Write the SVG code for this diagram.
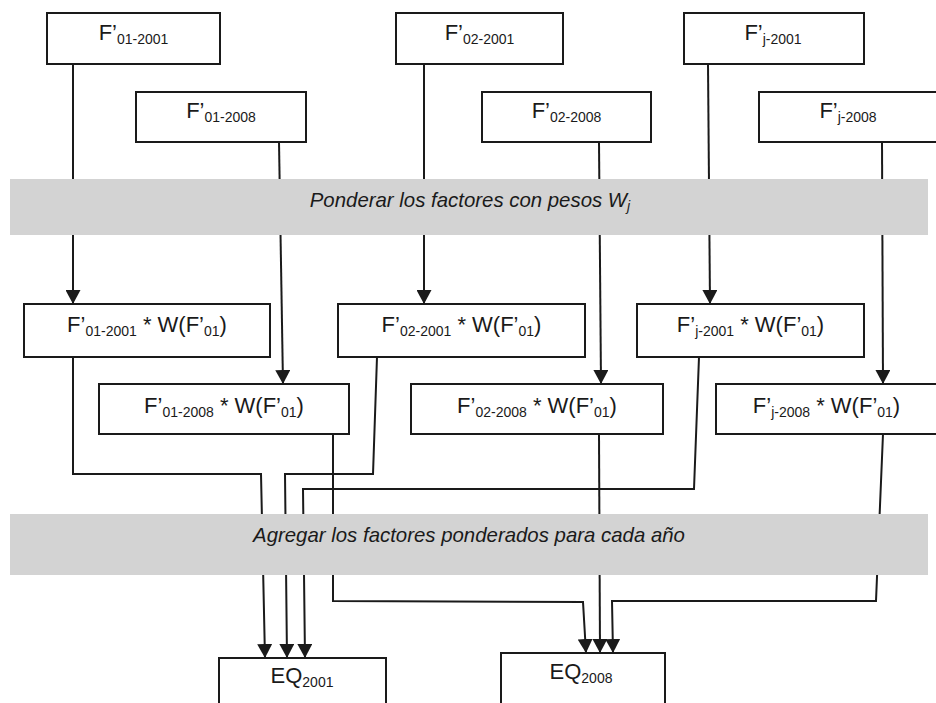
<svg xmlns="http://www.w3.org/2000/svg" width="936" height="703" viewBox="0 0 936 703">
<style>
  .box { fill: #ffffff; stroke: #1a1a1a; stroke-width: 2; }
  .band { fill: #d3d3d3; }
  .lbl { font-family: "Liberation Sans", Arial, sans-serif; font-size: 22px; fill: #1a1a1a; text-anchor: middle; }
  .sub { font-size: 14px; }
  .bandtxt { font-family: "Liberation Sans", Arial, sans-serif; font-size: 20.4px; font-style: italic; fill: #1a1a1a; text-anchor: middle; }
  .con { fill: none; stroke: #1a1a1a; stroke-width: 2; }
  .arr { marker-end: url(#ah); }
</style>
<defs>
  <marker id="ah" markerUnits="userSpaceOnUse" markerWidth="15" markerHeight="15" refX="14" refY="7.5" orient="auto" viewBox="0 0 15 15">
    <path d="M0,0 L14,7.5 L0,15 z" fill="#1a1a1a"/>
  </marker>
</defs>
<rect width="936" height="703" fill="#ffffff"/>

<g id="connectors">
  <path class="con arr" d="M73 64 V304"/>
  <path class="con arr" d="M279 142 L283 384"/>
  <path class="con arr" d="M424 64 V304"/>
  <path class="con arr" d="M599 142 L601 384"/>
  <path class="con arr" d="M708 64 L710 304"/>
  <path class="con arr" d="M882 142 L883 384"/>
  <path class="con arr" d="M73 357 V474 H261 L265 658"/>
  <path class="con arr" d="M377 357 L373 474 H285 L287 658"/>
  <path class="con arr" d="M699 357 L694 489 H303 L305 658"/>
  <path class="con arr" d="M333 434 V601 L583 602 L586 653"/>
  <path class="con arr" d="M599 434 L600 653"/>
  <path class="con arr" d="M883 434 L876 601 H612 L613 653"/>
</g>

<g id="band-ponderar">
  <rect class="band" x="10" y="179" width="918" height="56"/>
  <text class="bandtxt" x="470" y="207">Ponderar los factores con pesos W<tspan class="sub" dy="4" font-size="14">j</tspan></text>
</g>
<g id="band-agregar">
  <rect class="band" x="10" y="514" width="918" height="61"/>
  <text class="bandtxt" x="469" y="542">Agregar los factores ponderados para cada año</text>
</g>

<g id="f01-2001">
  <rect class="box" x="47" y="13" width="173" height="51"/>
  <text class="lbl" x="133.5" y="40">F’<tspan class="sub" dy="4">01-2001</tspan></text>
</g>
<g id="f01-2008">
  <rect class="box" x="136" y="92" width="170" height="50"/>
  <text class="lbl" x="221" y="118">F’<tspan class="sub" dy="4">01-2008</tspan></text>
</g>
<g id="f02-2001">
  <rect class="box" x="396" y="13" width="167" height="51"/>
  <text class="lbl" x="479.5" y="40">F’<tspan class="sub" dy="4">02-2001</tspan></text>
</g>
<g id="f02-2008">
  <rect class="box" x="482" y="92" width="169" height="50"/>
  <text class="lbl" x="566.5" y="118">F’<tspan class="sub" dy="4">02-2008</tspan></text>
</g>
<g id="fj-2001">
  <rect class="box" x="684" y="13" width="180" height="51"/>
  <text class="lbl" x="773" y="40">F’<tspan class="sub" dy="4">j-2001</tspan></text>
</g>
<g id="fj-2008">
  <rect class="box" x="759" y="92" width="180" height="50"/>
  <text class="lbl" x="848" y="118">F’<tspan class="sub" dy="4">j-2008</tspan></text>
</g>

<g id="w01-2001">
  <rect class="box" x="24" y="304" width="246" height="53"/>
  <text class="lbl" x="147" y="332">F’<tspan class="sub" dy="4">01-2001</tspan><tspan dy="-4"> * W(F’</tspan><tspan class="sub" dy="4">01</tspan><tspan dy="-4">)</tspan></text>
</g>
<g id="w01-2008">
  <rect class="box" x="99" y="384" width="250" height="50"/>
  <text class="lbl" x="224" y="413">F’<tspan class="sub" dy="4">01-2008</tspan><tspan dy="-4"> * W(F’</tspan><tspan class="sub" dy="4">01</tspan><tspan dy="-4">)</tspan></text>
</g>
<g id="w02-2001">
  <rect class="box" x="338" y="304" width="247" height="53"/>
  <text class="lbl" x="461.5" y="332">F’<tspan class="sub" dy="4">02-2001</tspan><tspan dy="-4"> * W(F’</tspan><tspan class="sub" dy="4">01</tspan><tspan dy="-4">)</tspan></text>
</g>
<g id="w02-2008">
  <rect class="box" x="411" y="384" width="252" height="50"/>
  <text class="lbl" x="537" y="413">F’<tspan class="sub" dy="4">02-2008</tspan><tspan dy="-4"> * W(F’</tspan><tspan class="sub" dy="4">01</tspan><tspan dy="-4">)</tspan></text>
</g>
<g id="wj-2001">
  <rect class="box" x="637" y="304" width="227" height="53"/>
  <text class="lbl" x="750.5" y="332">F’<tspan class="sub" dy="4">j-2001</tspan><tspan dy="-4"> * W(F’</tspan><tspan class="sub" dy="4">01</tspan><tspan dy="-4">)</tspan></text>
</g>
<g id="wj-2008">
  <rect class="box" x="716" y="384" width="222" height="50"/>
  <text class="lbl" x="826.5" y="413">F’<tspan class="sub" dy="4">j-2008</tspan><tspan dy="-4"> * W(F’</tspan><tspan class="sub" dy="4">01</tspan><tspan dy="-4">)</tspan></text>
</g>

<g id="eq2001">
  <rect class="box" x="219" y="658" width="167" height="60"/>
  <text class="lbl" x="302" y="683">EQ<tspan class="sub" dy="4">2001</tspan></text>
</g>
<g id="eq2008">
  <rect class="box" x="501" y="653" width="164" height="60"/>
  <text class="lbl" x="581" y="679">EQ<tspan class="sub" dy="4">2008</tspan></text>
</g>
</svg>
